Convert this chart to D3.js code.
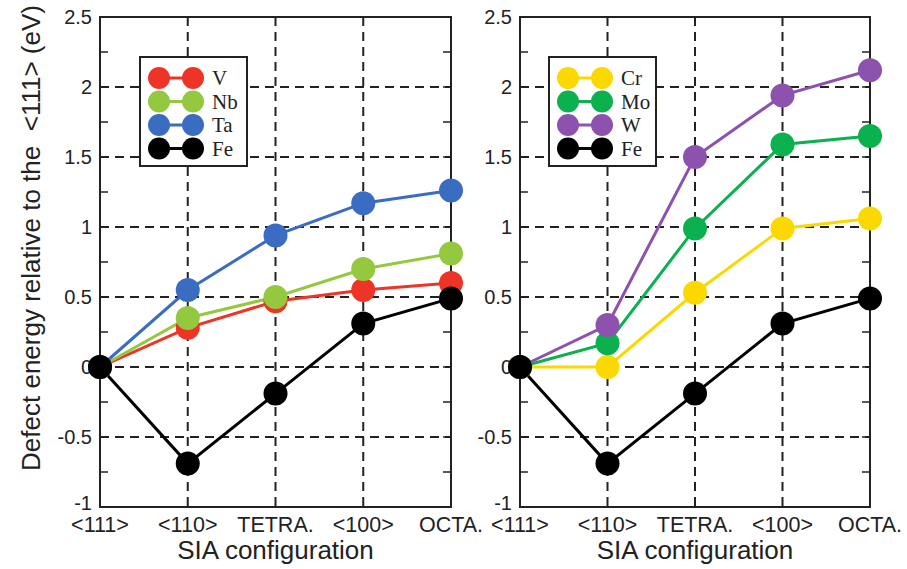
<!DOCTYPE html>
<html><head><meta charset="utf-8">
<script src="https://cdn.jsdelivr.net/npm/d3@7"></script>
<style>body{margin:0;background:#fff;} svg{display:block;}</style>
</head><body>
<script>
const categories = ["<111>", "<110>", "TETRA.", "<100>", "OCTA."];
const yTicks = [-1, -0.5, 0, 0.5, 1, 1.5, 2, 2.5];
const yTickLabels = ["-1", "-0.5", "0", "0.5", "1", "1.5", "2", "2.5"];
const seriesNames1 = ["V", "Nb", "Ta", "Fe"];
const seriesNames2 = ["Cr", "Mo", "W", "Fe"];
const V  = [0, 0.28, 0.47, 0.55, 0.60];
const Nb = [0, 0.35, 0.50, 0.70, 0.81];
const Ta = [0, 0.55, 0.94, 1.17, 1.26];
const Fe = [0, -0.69, -0.19, 0.31, 0.49];
const Cr = [0, 0.00, 0.53, 0.99, 1.06];
const Mo = [0, 0.17, 0.99, 1.59, 1.65];
const W  = [0, 0.30, 1.50, 1.94, 2.12];
const colors1 = ["#ee3426", "#93c83f", "#3a6cc2", "#000000"];
const colors2 = ["#fbd900", "#0bb04f", "#8c52ae", "#000000"];

const W_ = 907, H_ = 569;
const svg = d3.select("body").append("svg").attr("width", W_).attr("height", H_);
const SANS = "Liberation Sans, Arial, Helvetica, sans-serif";

function panel(x0, x1, names, data, colors, legendX) {
  const top = 17, bottom = 507;
  const x = d3.scaleLinear().domain([0, categories.length - 1]).range([x0, x1]);
  const y = d3.scaleLinear().domain([-1, 2.5]).range([bottom, top]);
  const g = svg.append("g");
  // grid
  g.selectAll(".hg").data(yTicks.slice(1, -1)).join("line")
    .attr("x1", x0).attr("x2", x1).attr("y1", d => y(d)).attr("y2", d => y(d))
    .attr("stroke", "#222").attr("stroke-width", 2).attr("stroke-dasharray", "9,6");
  g.selectAll(".vg").data(d3.range(1, categories.length - 1)).join("line")
    .attr("x1", d => x(d)).attr("x2", d => x(d)).attr("y1", top).attr("y2", bottom)
    .attr("stroke", "#222").attr("stroke-width", 2).attr("stroke-dasharray", "9,6");
  // minor ticks
  const minor = d3.range(-1, 2.5001, 0.25);
  g.selectAll(".ml").data(minor).join("line")
    .attr("x1", x0).attr("x2", x0 + 8).attr("y1", d => y(d)).attr("y2", d => y(d))
    .attr("stroke", "#222").attr("stroke-width", 1.5);
  g.selectAll(".mr").data(minor).join("line")
    .attr("x1", x1 - 8).attr("x2", x1).attr("y1", d => y(d)).attr("y2", d => y(d))
    .attr("stroke", "#222").attr("stroke-width", 1.5);
  // frame
  g.append("rect").attr("x", x0).attr("y", top).attr("width", x1 - x0).attr("height", bottom - top)
    .attr("fill", "none").attr("stroke", "#222").attr("stroke-width", 2);
  // y tick labels
  g.selectAll(".yl").data(yTicks).join("text")
    .attr("x", x0 - 8).attr("y", d => d === -1 ? y(d) + 3 : y(d) + 7).attr("text-anchor", "end")
    .attr("font-family", SANS).attr("font-size", 20).attr("fill", "#222")
    .text((d, i) => yTickLabels[i]);
  // x tick labels
  g.selectAll(".xl").data(categories).join("text")
    .attr("x", (d, i) => x(i)).attr("y", 532).attr("text-anchor", "middle")
    .attr("font-family", SANS).attr("font-size", 21.5).attr("fill", "#222")
    .text(d => d);
  g.append("text").attr("x", (x0 + x1) / 2).attr("y", 559).attr("text-anchor", "middle")
    .attr("font-family", SANS).attr("font-size", 26).attr("fill", "#222")
    .text("SIA configuration");
  // series
  const line = d3.line().x((d, i) => x(i)).y(d => y(d));
  data.forEach((s, k) => {
    g.append("path").attr("d", line(s)).attr("fill", "none").attr("stroke", colors[k]).attr("stroke-width", 3);
  });
  data.forEach((s, k) => {
    g.selectAll(null).data(s).join("circle")
      .attr("cx", (d, i) => x(i)).attr("cy", d => y(d)).attr("r", 12).attr("fill", colors[k]);
  });
  // legend
  const lx = legendX, ly = 57, lw = 107, lh = 109;
  const lg = g.append("g");
  lg.append("rect").attr("x", lx).attr("y", ly).attr("width", lw).attr("height", lh)
    .attr("fill", "#fff").attr("stroke", "#222").attr("stroke-width", 2);
  names.forEach((n, k) => {
    const cy = ly + 21 + k * 23.5;
    lg.append("line").attr("x1", lx + 19).attr("x2", lx + 53).attr("y1", cy).attr("y2", cy)
      .attr("stroke", colors[k]).attr("stroke-width", 3);
    lg.append("circle").attr("cx", lx + 19).attr("cy", cy).attr("r", 11).attr("fill", colors[k]);
    lg.append("circle").attr("cx", lx + 53).attr("cy", cy).attr("r", 11).attr("fill", colors[k]);
    lg.append("text").attr("x", lx + 72).attr("y", cy + 7)
      .attr("font-family", "Liberation Serif, Times New Roman, serif").attr("font-size", 21).attr("fill", "#222")
      .text(n);
  });
}

panel(100, 451, seriesNames1, [V, Nb, Ta, Fe], colors1, 140);
panel(520, 870, seriesNames2, [Cr, Mo, W, Fe], colors2, 549);

svg.append("text").attr("transform", "translate(40,238) rotate(-90)").attr("text-anchor", "middle")
  .attr("font-family", SANS).attr("font-size", 26).attr("fill", "#222")
  .attr("xml:space", "preserve").style("white-space", "pre")
  .text("Defect energy relative to the  <111> (eV)");
</script>
</body></html>
